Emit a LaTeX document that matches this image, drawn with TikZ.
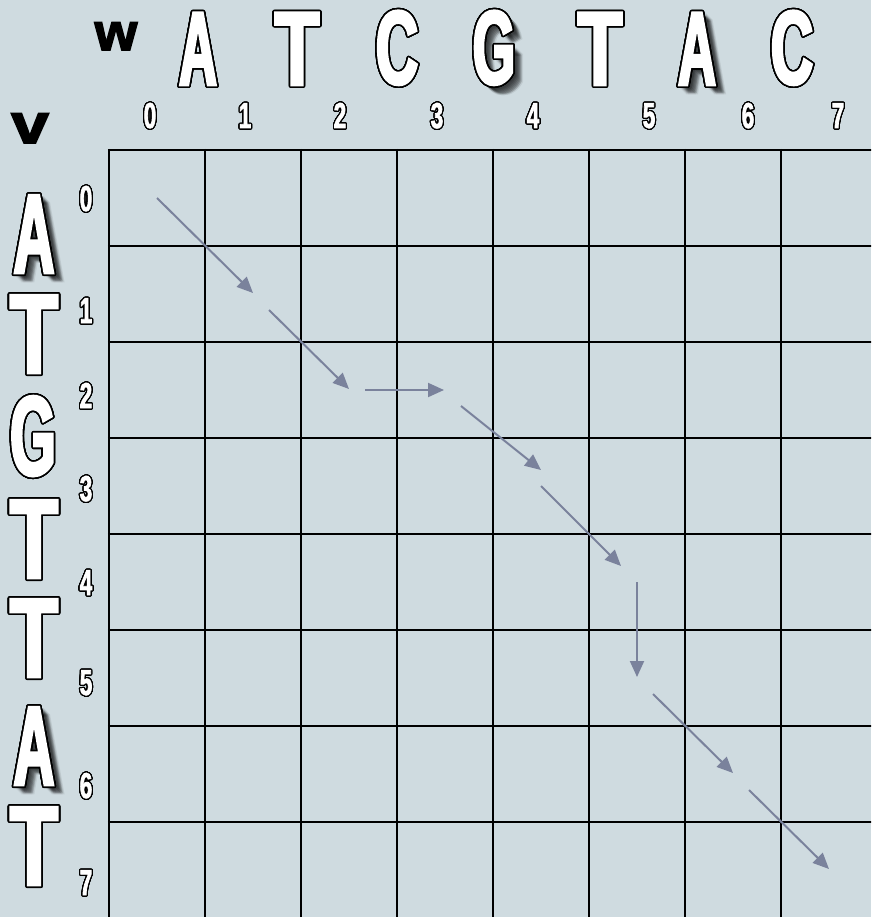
\documentclass[tikz,border=0pt]{standalone}
\usepackage{fontspec}
\setmainfont{Liberation Sans}
\newfontfamily\capf{Liberation Sans}[FakeStretch=0.56,FakeBold=2.5]
\newfontfamily\capA{Liberation Sans}[FakeStretch=0.5,FakeBold=2.5]
\newfontfamily\capT{Liberation Sans}[FakeStretch=0.7,FakeBold=2.5]
\newfontfamily\capG{Liberation Sans}[FakeStretch=0.52,FakeBold=2.5]
\newfontfamily\numf{Liberation Sans}[FakeStretch=0.62,FakeBold=2]
\newfontfamily\vwf{Liberation Sans}[FakeStretch=1.05,FakeBold=3]
\usepackage{contour}
\contournumber{32}
\usetikzlibrary{arrows.meta}
\definecolor{bg}{RGB}{207,219,224}
\definecolor{arr}{RGB}{122,130,156}
\newcommand\outl[2]{{\contourlength{#1}\color{white}\contour{black}{#2}}}
\newcommand\LA{{\capA\bfseries A}}
\newcommand\LT{{\capT\bfseries T}}
\newcommand\LG{{\capG\bfseries G}}
\newcommand\LC{{\capf\bfseries C}}
\tikzset{
  gridl/.style={line width=2.4pt, draw=black},
  seqtop/.style={font=\fontsize{105}{105}\selectfont, anchor=base, inner sep=0pt},
  seqleft/.style={font=\fontsize{113}{113}\selectfont, anchor=base, inner sep=0pt},
  idx/.style={font=\numf\bfseries\fontsize{36}{36}\selectfont, anchor=base, inner sep=0pt},
  shad/.style={text=black, text opacity=0.07},
  path/.style={draw=arr, line width=2pt, -{Triangle[length=16pt,width=14pt]}},
}
\begin{document}
\begin{tikzpicture}[x=1pt,y=-1pt]
\fill[bg] (0,0) rectangle (871,917);
\useasboundingbox (0,0) rectangle (871,917);
% grid
\begin{scope}
\clip (0,0) rectangle (871,917);
\foreach \i in {0,...,7} \draw[gridl] (109+96*\i,148.8) -- (109+96*\i,925);
\foreach \j in {0,...,7} \draw[gridl] (107.8,150+96*\j) -- (880,150+96*\j);
\end{scope}
% labels w and v
\node[font=\vwf\bfseries\fontsize{52}{52}\selectfont, anchor=base, inner sep=0pt] (w) at (116,50) {w};
\node[font=\vwf\bfseries\fontsize{56}{56}\selectfont, anchor=base, inner sep=0pt, xscale=1.15] (v) at (30,143) {v};
% shadows
\foreach \d in {2,...,8} {
  \node[seqtop,shad] at (494+\d,85+\d) {\LG};
  \node[seqtop,shad] at (496+\d,85+\d) {\LG};
  \node[seqtop,shad] at (697+\d,85+\d) {\LA};
  \node[seqtop,shad] at (699+\d,85+\d) {\LA};
  \node[seqleft,shad] at (34+\d,273+\d) {\LA};
  \node[seqleft,shad] at (36+\d,273+\d) {\LA};
  \node[seqleft,shad] at (34+\d,785+\d) {\LA};
  \node[seqleft,shad] at (36+\d,785+\d) {\LA};
}
% top sequence
\node[seqtop] (t1) at (198,85) {\outl{1.6pt}{\LA}};
\node[seqtop] (t2) at (297,85) {\outl{1.6pt}{\LT}};
\node[seqtop] (t3) at (397,84) {\outl{1.6pt}{\LC}};
\node[seqtop] (t4) at (494,84) {\outl{1.6pt}{\LG}};
\node[seqtop] (t5) at (600,85) {\outl{1.6pt}{\LT}};
\node[seqtop] (t6) at (697,85) {\outl{1.6pt}{\LA}};
\node[seqtop] (t7) at (792,84) {\outl{1.6pt}{\LC}};
% left sequence
\node[seqleft] (l1) at (34,273) {\outl{1.6pt}{\LA}};
\node[seqleft] (l2) at (34,373) {\outl{1.6pt}{\LT}};
\node[seqleft] (l3) at (33,475) {\outl{1.6pt}{\LG}};
\node[seqleft] (l4) at (34,578) {\outl{1.6pt}{\LT}};
\node[seqleft] (l5) at (34,677) {\outl{1.6pt}{\LT}};
\node[seqleft] (l6) at (34,785) {\outl{1.6pt}{\LA}};
\node[seqleft] (l7) at (34,885) {\outl{1.6pt}{\LT}};
% top indices
\node[idx] (c0) at (150,128) {\outl{1.2pt}{0}};
\node[idx] (c1) at (245,128) {\outl{1.2pt}{1}};
\node[idx] (c2) at (340,128) {\outl{1.2pt}{2}};
\node[idx] (c3) at (437,128) {\outl{1.2pt}{3}};
\node[idx] (c4) at (533,128) {\outl{1.2pt}{4}};
\node[idx] (c5) at (649,128) {\outl{1.2pt}{5}};
\node[idx] (c6) at (748,128) {\outl{1.2pt}{6}};
\node[idx] (c7) at (838,128) {\outl{1.2pt}{7}};
% left indices
\node[idx] (r0) at (86,211) {\outl{1.2pt}{0}};
\node[idx] (r1) at (86,323) {\outl{1.2pt}{1}};
\node[idx] (r2) at (86,408) {\outl{1.2pt}{2}};
\node[idx] (r3) at (86,501) {\outl{1.2pt}{3}};
\node[idx] (r4) at (86,595) {\outl{1.2pt}{4}};
\node[idx] (r5) at (86,695) {\outl{1.2pt}{5}};
\node[idx] (r6) at (86,798) {\outl{1.2pt}{6}};
\node[idx] (r7) at (86,895) {\outl{1.2pt}{7}};
% alignment path
\coordinate (p1s) at (157,198); \coordinate (p1e) at (253,293);
\coordinate (p2s) at (269,310); \coordinate (p2e) at (349,389);
\coordinate (p3s) at (365,390); \coordinate (p3e) at (444,390);
\coordinate (p4s) at (461,406); \coordinate (p4e) at (541,470);
\coordinate (p5s) at (541,486); \coordinate (p5e) at (621,566);
\coordinate (p6s) at (637,582); \coordinate (p6e) at (637,677);
\coordinate (p7s) at (653,694); \coordinate (p7e) at (733,773);
\coordinate (p8s) at (749,790); \coordinate (p8e) at (829,869);
\foreach \k in {1,...,8} \draw[path] (p\k s) -- (p\k e);
\end{tikzpicture}
\end{document}
